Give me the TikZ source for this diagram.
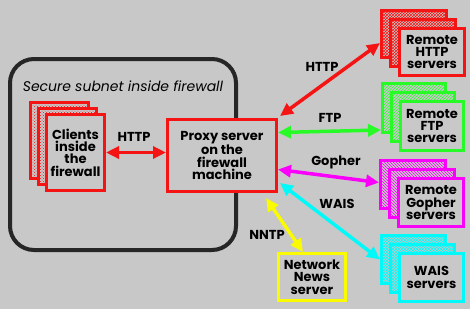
\documentclass[tikz,border=0pt]{standalone}
\usepackage{fontspec}
\setmainfont{Poppins}
\usetikzlibrary{arrows.meta,patterns}
\definecolor{bg}{RGB}{200,200,200}
\definecolor{cred}{RGB}{245,20,20}
\definecolor{cgreen}{RGB}{40,250,40}
\definecolor{cmag}{RGB}{250,0,250}
\definecolor{ccyan}{RGB}{0,250,250}
\definecolor{cyel}{RGB}{250,250,0}
\begin{document}
\begin{tikzpicture}[x=1pt,y=-1pt,
  txt/.style={font=\bfseries\fontsize{13}{12.3}\selectfont, align=center},
  frontbox/.style={draw=#1, line width=3pt, fill=bg, inner sep=0pt, txt},
  backbox/.style={draw=#1, line width=3pt, preaction={fill=bg}, pattern color=#1, inner sep=0pt},
  lbl/.style={font=\bfseries\fontsize{13}{14}\selectfont},
  conn/.style={draw=#1, line width=3.5pt, {Triangle[length=13pt,width=12pt]}-{Triangle[length=13pt,width=12pt]}}]
\fill[bg] (0,0) rectangle (470,309);
\useasboundingbox (0,0) rectangle (470,309);

% firewall
\draw[line width=4pt, rounded corners=24pt, black!85] (10,59) rectangle (236,250);
\node[font=\itshape\fontsize{14}{14}\selectfont] (cap) at (123,86) {Secure subnet inside firewall};

% clients
\node[backbox=cred, pattern=crosshatch dots, minimum width=58pt, minimum height=76pt] (clb2) at (59.5,140.5) {};
\node[backbox=cred, pattern=crosshatch dots, minimum width=58pt, minimum height=76pt] (clb1) at (67.5,146.5) {};
\node[frontbox=cred, minimum width=58pt, minimum height=76pt] (cl) at (75.5,152.5) {Clients\\inside\\the\\firewall};

% proxy
\node[frontbox=cred, minimum width=109pt, minimum height=72pt] (proxy) at (222,155.5) {Proxy server\\on the\\firewall\\machine};

% remote HTTP
\node[backbox=cred, pattern=crosshatch, minimum width=65pt, minimum height=47pt] (httpb2) at (414,34) {};
\node[backbox=cred, pattern=crosshatch, minimum width=65pt, minimum height=47pt] (httpb1) at (423,43) {};
\node[frontbox=cred, minimum width=65pt, minimum height=47pt] (http) at (432,52) {Remote\\HTTP\\servers};

% remote FTP
\node[backbox=cgreen, pattern=north east lines, minimum width=63pt, minimum height=49pt] (ftpb2) at (414,108) {};
\node[backbox=cgreen, pattern=north east lines, minimum width=63pt, minimum height=49pt] (ftpb1) at (423,117) {};
\node[frontbox=cgreen, minimum width=63pt, minimum height=49pt] (ftp) at (432,126) {Remote\\FTP\\servers};

% remote Gopher
\node[backbox=cmag, pattern=north west lines, minimum width=65pt, minimum height=48pt] (gopb2) at (413,184.5) {};
\node[backbox=cmag, pattern=north west lines, minimum width=65pt, minimum height=48pt] (gopb1) at (422,193.5) {};
\node[frontbox=cmag, minimum width=65pt, minimum height=48pt] (gop) at (431,202.5) {Remote\\Gopher\\servers};

% WAIS
\node[backbox=ccyan, pattern=crosshatch, minimum width=64pt, minimum height=48pt] (waisb2) at (413.5,259.5) {};
\node[backbox=ccyan, pattern=crosshatch, minimum width=64pt, minimum height=48pt] (waisb1) at (422.5,268.5) {};
\node[frontbox=ccyan, minimum width=64pt, minimum height=48pt] (wais) at (431.5,277.5) {WAIS\\servers};

% news
\node[frontbox=cyel, minimum width=67pt, minimum height=47pt] (news) at (312,277) {Network\\News\\server};

% connectors
\draw[conn=cred] (cl.east) -- (proxy.west |- cl.east);
\draw[conn=cred] ([shift={(2pt,2pt)}]proxy.north east) -- ([yshift=-9pt]httpb2.west);
\draw[conn=cgreen] ([yshift=23pt]proxy.east) -- ([yshift=-22pt]ftpb2.west);
\draw[conn=cmag] ([yshift=-14pt]proxy.east) -- ([yshift=2pt]gopb2.west);
\draw[conn=ccyan] ([shift={(2pt,10pt)}]proxy.south east) -- (waisb2.west);
\draw[conn=cyel] ([shift={(-12pt,-5pt)}]proxy.south east) -- ([xshift=-9pt]news.north);

% labels
\node[lbl] (l1) at (134,137) {HTTP};
\node[lbl] (l2) at (322,67) {HTTP};
\node[lbl] (l3) at (330,118) {FTP};
\node[lbl] (l4) at (336,162) {Gopher};
\node[lbl] (l5) at (337,204) {WAIS};
\node[lbl] (l6) at (267,235) {NNTP};
\end{tikzpicture}
\end{document}
